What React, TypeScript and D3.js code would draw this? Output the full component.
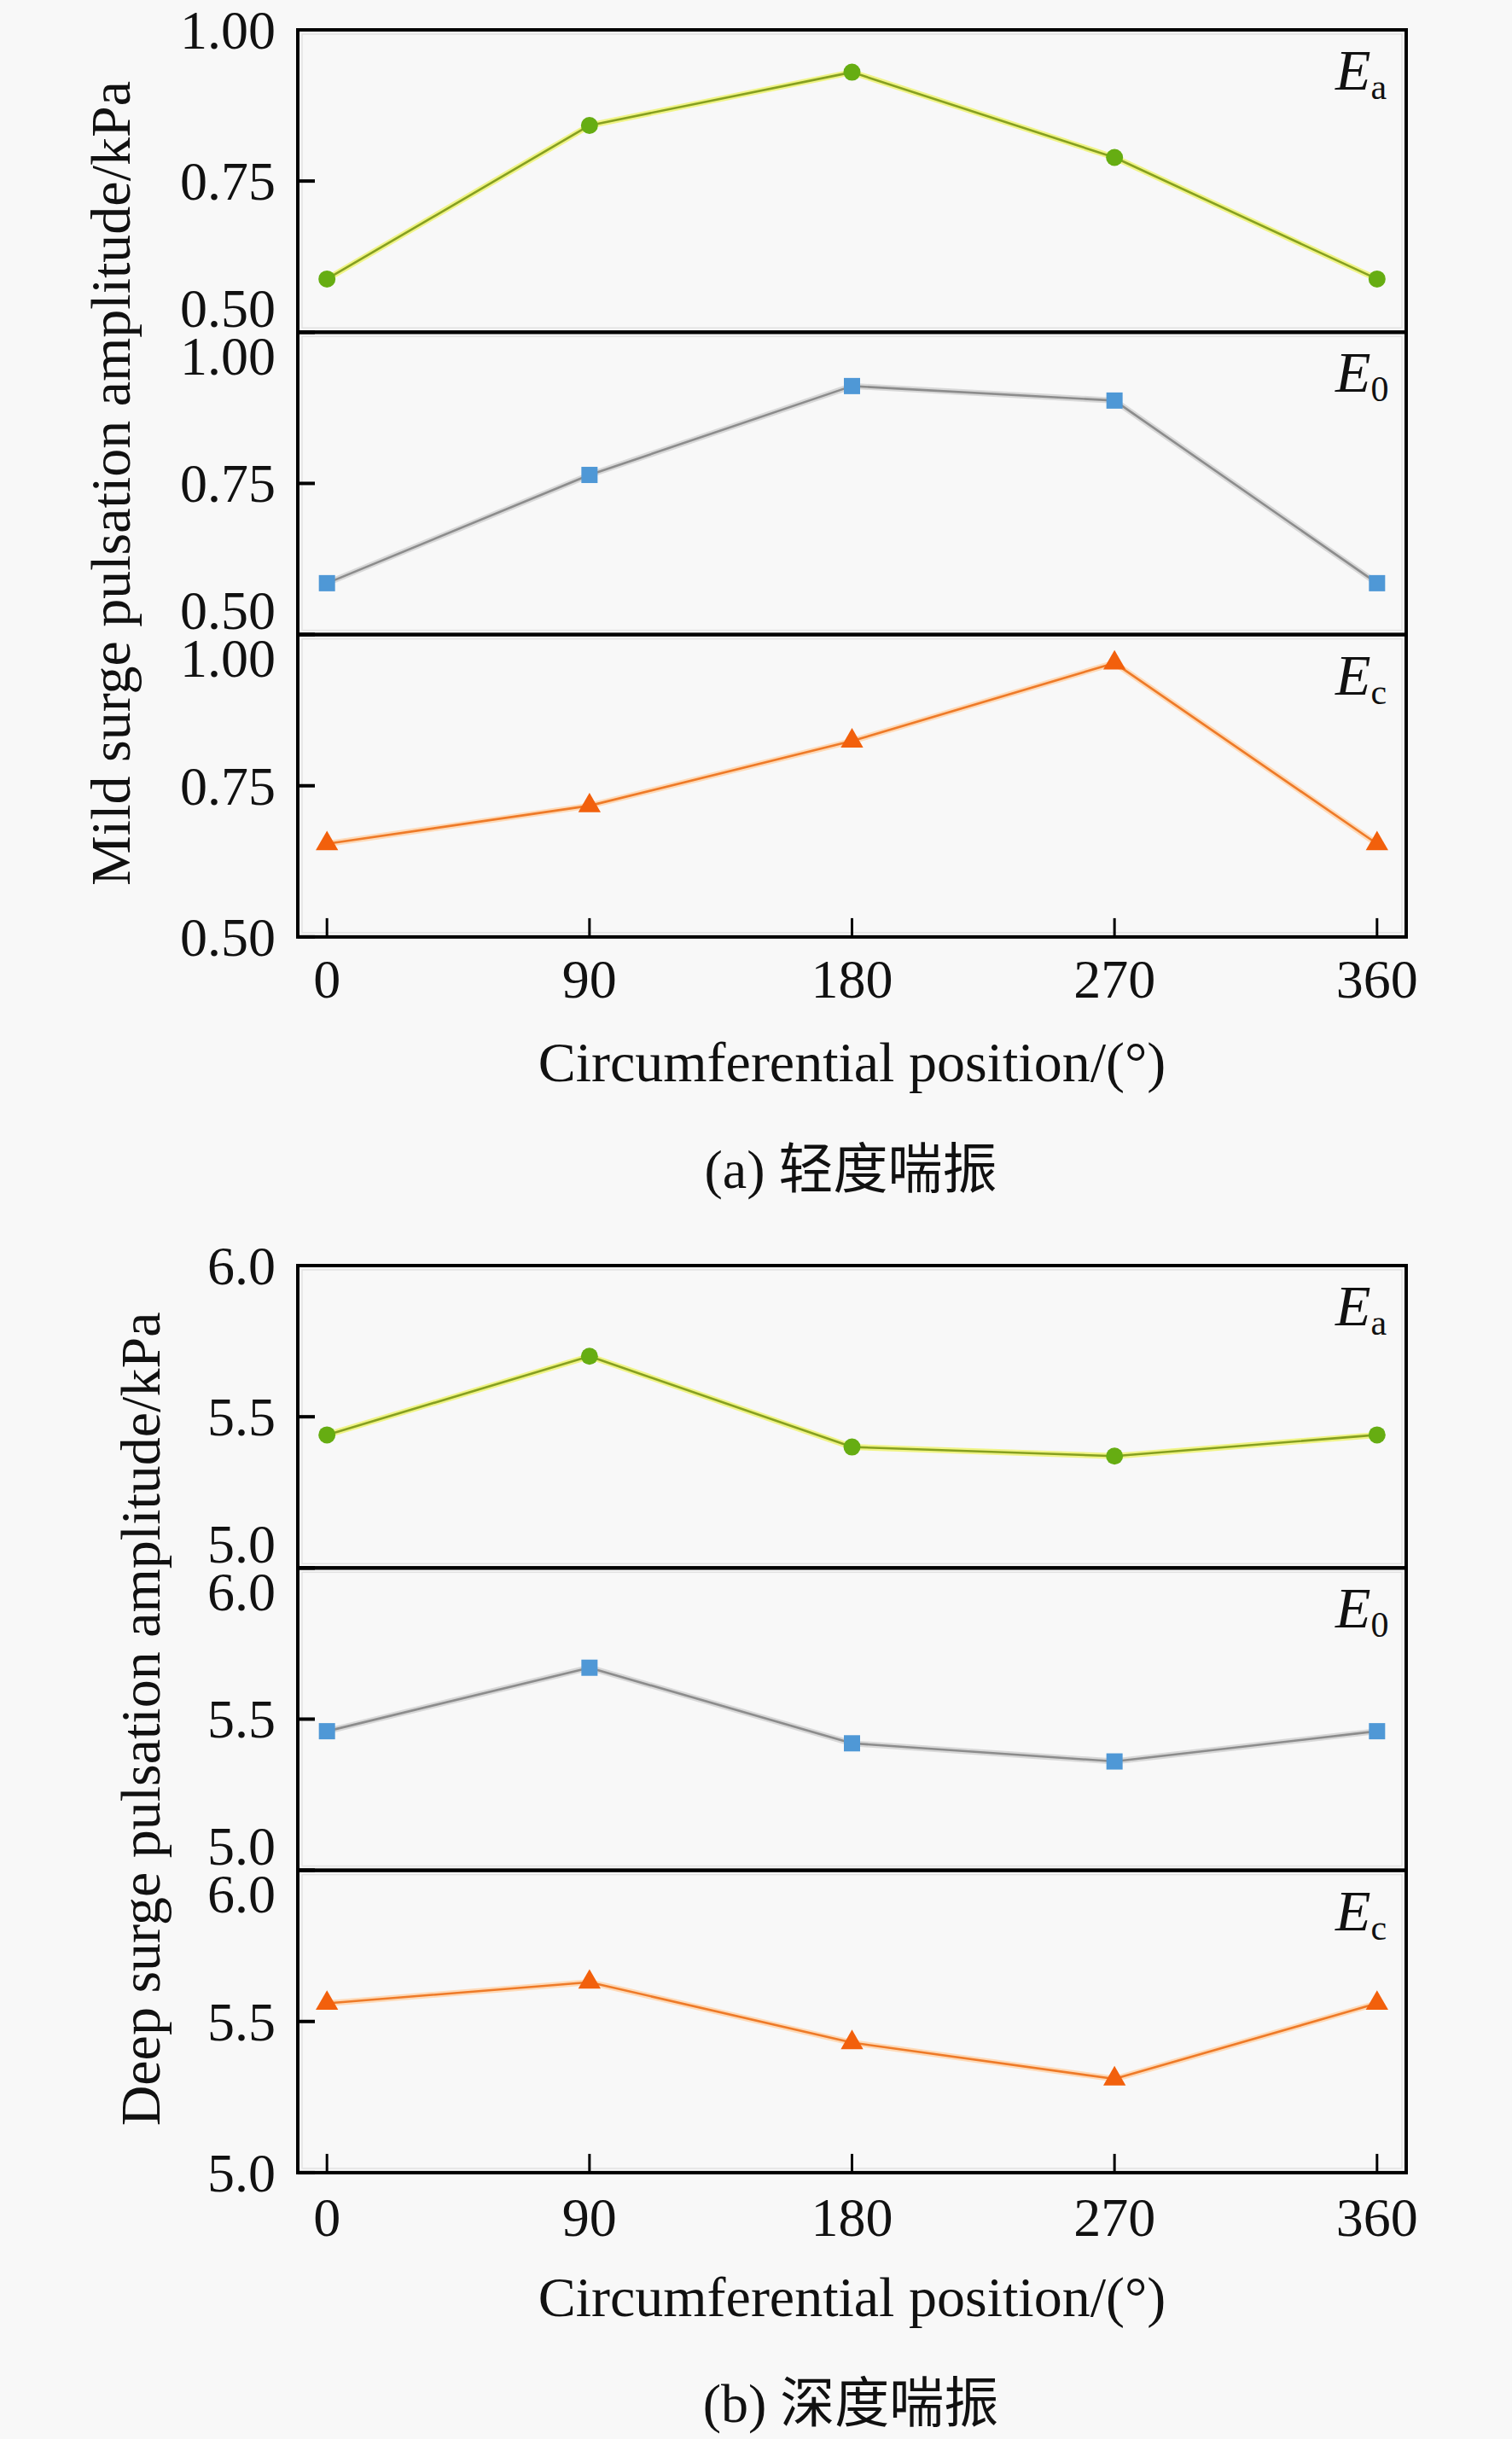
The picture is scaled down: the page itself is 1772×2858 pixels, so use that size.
import React from "react";
import * as d3 from "d3";

const angles = [0, 90, 180, 270, 360];
const xTicks = [0, 90, 180, 270, 360];

const mildEa = [0.588, 0.842, 0.93, 0.789, 0.588];
const mildE0 = [0.585, 0.764, 0.911, 0.887, 0.585];
const mildEc = [0.654, 0.717, 0.824, 0.953, 0.654];
const mildTicks = [0.5, 0.75, 1.0];
const mildTickLabels = ["0.50", "0.75", "1.00"];

const deepEa = [5.44, 5.7, 5.4, 5.37, 5.44];
const deepE0 = [5.46, 5.67, 5.42, 5.36, 5.46];
const deepEc = [5.56, 5.63, 5.43, 5.31, 5.56];
const deepTicks = [5.0, 5.5, 6.0];
const deepTickLabels = ["5.0", "5.5", "6.0"];

const seriesNames = ["a", "0", "c"];
const seriesStyles = [
  { halo: "#eef26a", line: "#86a020", marker: "#66ad12", shape: "circle" },
  { halo: "#d0d0d0", line: "#8c8c8c", marker: "#4f98d6", shape: "square" },
  { halo: "#ffd2a8", line: "#ee7a28", marker: "#f2600c", shape: "triangle" },
];

const W = 1772;
const H = 2858;
const LEFT = 349;
const RIGHT = 1648;
const PANEL_H = 354.3;
const FONT = "'Liberation Serif', 'Times New Roman', 'Noto Sans CJK SC', serif";

const x = d3.scaleLinear().domain([-10, 370]).range([LEFT, RIGHT]);

type Group = {
  top: number;
  series: number[][];
  domain: [number, number];
  ticks: number[];
  tickLabels: string[];
  yTitle: string;
  yTitleX: number;
  caption: string;
  xLabelBase: number;
  xTitleBase: number;
  captionBase: number;
};

const groups: Group[] = [
  {
    top: 35,
    series: [mildEa, mildE0, mildEc],
    domain: [0.5, 1.0],
    ticks: mildTicks,
    tickLabels: mildTickLabels,
    yTitle: "Mild surge pulsation amplitude/kPa",
    yTitleX: 152,
    caption: "(a) 轻度喘振",
    xLabelBase: 1169,
    xTitleBase: 1267,
    captionBase: 1392,
  },
  {
    top: 1483,
    series: [deepEa, deepE0, deepEc],
    domain: [5.0, 6.0],
    ticks: deepTicks,
    tickLabels: deepTickLabels,
    yTitle: "Deep surge pulsation amplitude/kPa",
    yTitleX: 187,
    caption: "(b) 深度喘振",
    xLabelBase: 2620,
    xTitleBase: 2714,
    captionBase: 2838,
  },
];

function Marker({ shape, cx, cy, fill }: { shape: string; cx: number; cy: number; fill: string }) {
  if (shape === "circle") return <circle cx={cx} cy={cy} r={10} fill={fill} />;
  if (shape === "square")
    return <rect x={cx - 9.5} y={cy - 9.5} width={19} height={19} fill={fill} />;
  const tri = d3.symbol().type(d3.symbolTriangle).size(300)();
  return <path d={tri || ""} transform={`translate(${cx},${cy})`} fill={fill} />;
}

function Panel({ g, idx }: { g: Group; idx: number }) {
  const top = g.top + idx * PANEL_H;
  const bottom = top + PANEL_H;
  const y = d3.scaleLinear().domain(g.domain).range([bottom, top]);
  const vals = g.series[idx];
  const st = seriesStyles[idx];
  const line = d3
    .line<number>()
    .x((_, i) => x(angles[i]))
    .y((v) => y(v));
  const d = line(vals) || "";
  const isLast = idx === 2;
  return (
    <g>
      <rect x={LEFT + 5} y={top + 5} width={RIGHT - LEFT - 10} height={PANEL_H - 10} fill="none" stroke="#e2e2e2" strokeWidth={1.5} />
      <path d={d} fill="none" stroke={st.halo} strokeWidth={7} strokeLinejoin="round" opacity={0.8} />
      <path d={d} fill="none" stroke={st.line} strokeWidth={2.6} strokeLinejoin="round" />
      {vals.map((v, i) => (
        <Marker key={i} shape={st.shape} cx={x(angles[i])} cy={y(v)} fill={st.marker} />
      ))}
      {g.ticks.map((t, i) => {
        let ty = y(t);
        if (i === 0 && !isLast) ty -= 28;
        if (i === g.ticks.length - 1 && idx > 0) ty += 28;
        return (
          <g key={i}>
            <line x1={LEFT} x2={LEFT + 20} y1={y(t)} y2={y(t)} stroke="#000" strokeWidth={4} />
            <text x={323} y={ty} dy="0.34em" textAnchor="end" fontSize={64} fontFamily={FONT} fill="#111">
              {g.tickLabels[i]}
            </text>
          </g>
        );
      })}
      {isLast &&
        xTicks.map((t, i) => (
          <line key={i} x1={x(t)} x2={x(t)} y1={bottom} y2={bottom - 22} stroke="#000" strokeWidth={3} />
        ))}
      <text x={1565} y={top + 70} fontFamily={FONT} fill="#111">
        <tspan fontSize={68} fontStyle="italic">E</tspan>
        <tspan fontSize={42} dy={11}>{seriesNames[idx]}</tspan>
      </text>
      <rect x={LEFT} y={top} width={RIGHT - LEFT} height={PANEL_H} fill="none" stroke="#000" strokeWidth={4} />
    </g>
  );
}

export default function App() {
  return (
    <svg
      width={W}
      height={H}
      viewBox={`0 0 ${W} ${H}`}
      style={{ position: "absolute", left: 0, top: 0, background: "#f8f8f8" }}
    >
      <rect x={0} y={0} width={W} height={H} fill="#f8f8f8" />
      {groups.map((g, gi) => {
        const cy = g.top + (PANEL_H * 3) / 2;
        return (
          <g key={gi}>
            {[0, 1, 2].map((i) => (
              <Panel key={i} g={g} idx={i} />
            ))}
            {xTicks.map((t, i) => (
              <text key={i} x={x(t)} y={g.xLabelBase} textAnchor="middle" fontSize={64} fontFamily={FONT} fill="#111">
                {t}
              </text>
            ))}
            <text
              transform={`translate(${g.yTitleX},${cy}) rotate(-90)`}
              textAnchor="middle"
              fontSize={66}
              fontFamily={FONT}
              fill="#111"
            >
              {g.yTitle}
            </text>
            <text x={(LEFT + RIGHT) / 2} y={g.xTitleBase} textAnchor="middle" fontSize={66} fontFamily={FONT} fill="#111">
              Circumferential position/(°)
            </text>
            <text x={997} y={g.captionBase} textAnchor="middle" fontSize={64} fontFamily={FONT} fill="#111">
              {g.caption}
            </text>
          </g>
        );
      })}
    </svg>
  );
}
